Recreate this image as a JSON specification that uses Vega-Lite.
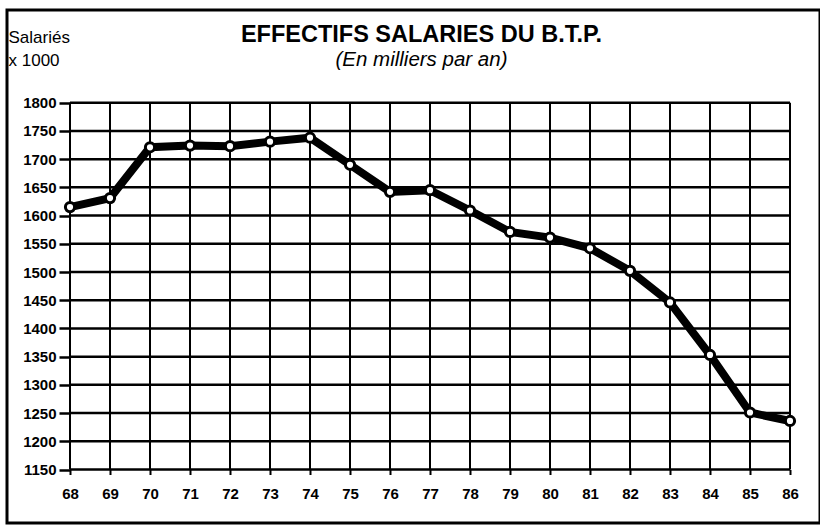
{
  "$schema": "https://vega.github.io/schema/vega-lite/v6.json",
  "autosize": {"type": "none"},
  "padding": {"left": 7, "top": 10, "right": 0, "bottom": 4},
  "width": 813,
  "height": 513,
  "background": "white",
  "config": {
    "view": {"stroke": "black", "strokeWidth": 3, "fill": "white"},
    "font": "Liberation Sans",
    "axis": {"labelOverlap": false, "labelBound": false, "labelFlush": false}
  },
  "title": {
    "text": "EFFECTIFS SALARIES DU B.T.P.",
    "subtitle": "(En milliers par an)",
    "anchor": "middle",
    "offset": -60,
    "dx": 8,
    "font": "Liberation Sans",
    "fontSize": 23.5,
    "fontWeight": "bold",
    "color": "black",
    "subtitleFont": "Liberation Sans",
    "subtitleFontSize": 20.5,
    "subtitleFontStyle": "italic",
    "subtitleColor": "black",
    "subtitlePadding": 3
  },
  "datasets": {
    "series": [
      {"year": 68, "salaries": 1615},
      {"year": 69, "salaries": 1631},
      {"year": 70, "salaries": 1721},
      {"year": 71, "salaries": 1724},
      {"year": 72, "salaries": 1723},
      {"year": 73, "salaries": 1731},
      {"year": 74, "salaries": 1738},
      {"year": 75, "salaries": 1690},
      {"year": 76, "salaries": 1642},
      {"year": 77, "salaries": 1645},
      {"year": 78, "salaries": 1609},
      {"year": 79, "salaries": 1571},
      {"year": 80, "salaries": 1561},
      {"year": 81, "salaries": 1542},
      {"year": 82, "salaries": 1502},
      {"year": 83, "salaries": 1446},
      {"year": 84, "salaries": 1353},
      {"year": 85, "salaries": 1251},
      {"year": 86, "salaries": 1236}
    ],
    "levels": [
      {"level": 1150}, {"level": 1200}, {"level": 1250}, {"level": 1300},
      {"level": 1350}, {"level": 1400}, {"level": 1450}, {"level": 1500},
      {"level": 1550}, {"level": 1600}, {"level": 1650}, {"level": 1700},
      {"level": 1750}, {"level": 1800}
    ]
  },
  "layer": [
    {
      "data": {"name": "levels"},
      "mark": {"type": "rule", "color": "black", "strokeWidth": 2.5},
      "encoding": {
        "y": {
          "field": "level", "type": "quantitative",
          "scale": {"domain": [1055.2, 1964.3], "nice": false, "zero": false},
          "axis": {
            "orient": "left", "offset": -63, "domain": false, "grid": false,
            "values": [1150,1200,1250,1300,1350,1400,1450,1500,1550,1600,1650,1700,1750,1800],
            "tickCount": 30,
            "format": "d", "labelOverlap": false,
            "title": ["Salariés", "x 1000"],
            "titleAngle": 0, "titleAlign": "left", "titleBaseline": "alphabetic",
            "titleX": -62, "titleY": 32, "titleLineHeight": 23,
            "titleFont": "Liberation Sans", "titleFontSize": 17, "titleFontWeight": "normal",
            "titleColor": "black",
            "tickSize": 11, "tickWidth": 2.5, "tickColor": "black",
            "labelPadding": 3, "labelFont": "Liberation Sans", "labelFontSize": 15,
            "labelFontWeight": "bold", "labelColor": "black"
          }
        },
        "x": {
          "datum": 68, "type": "quantitative",
          "scale": {"domain": [66.425, 86.75], "nice": false, "zero": false},
          "axis": {
            "orient": "bottom", "offset": -53.5, "domain": false, "grid": false,
            "values": [68,69,70,71,72,73,74,75,76,77,78,79,80,81,82,83,84,85,86],
            "tickCount": 30,
            "format": "d", "title": null, "labelOverlap": false,
            "tickSize": 5, "tickWidth": 2, "tickColor": "black",
            "labelPadding": 12, "labelFont": "Liberation Sans", "labelFontSize": 15,
            "labelFontWeight": "bold", "labelColor": "black"
          }
        },
        "x2": {"datum": 86}
      }
    },
    {
      "data": {"name": "series"},
      "mark": {"type": "rule", "color": "black", "strokeWidth": 2},
      "encoding": {
        "x": {"field": "year", "type": "quantitative"},
        "y": {"datum": 1150, "type": "quantitative"},
        "y2": {"datum": 1800}
      }
    },
    {
      "data": {"name": "series"},
      "mark": {"type": "line", "color": "black", "strokeWidth": 8},
      "encoding": {
        "x": {"field": "year", "type": "quantitative"},
        "y": {"field": "salaries", "type": "quantitative"}
      }
    },
    {
      "data": {"name": "series"},
      "mark": {"type": "point", "filled": false, "fill": "white", "fillOpacity": 1, "stroke": "black", "strokeWidth": 3, "opacity": 1, "size": 85},
      "encoding": {
        "x": {"field": "year", "type": "quantitative"},
        "y": {"field": "salaries", "type": "quantitative"}
      }
    }
  ]
}
